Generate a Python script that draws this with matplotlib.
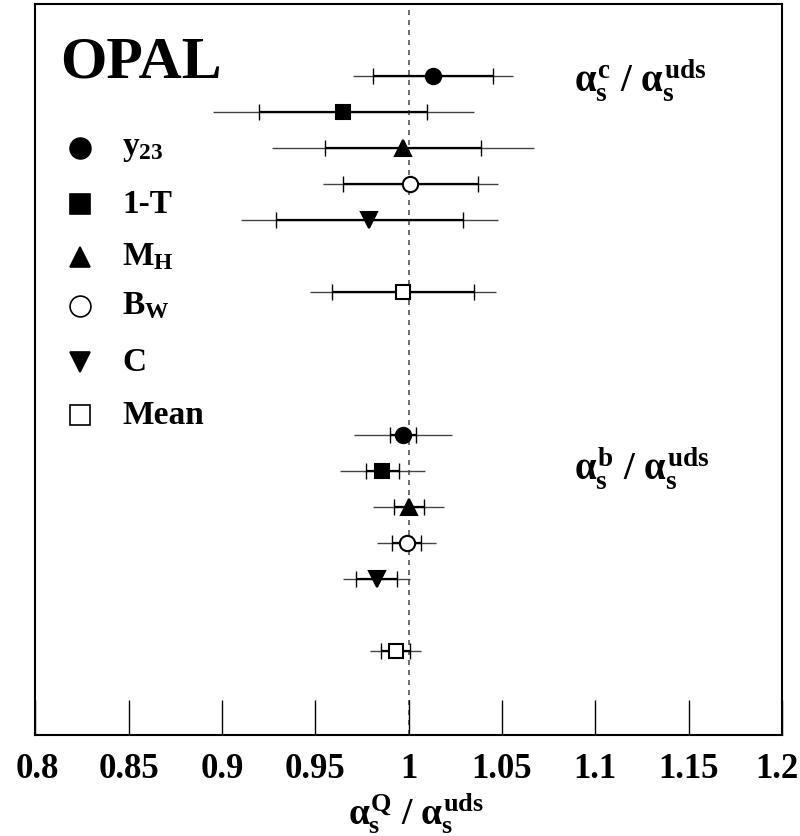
import matplotlib.pyplot as plt
import matplotlib.transforms as mtransforms
import numpy as np

plt.rcParams['font.family'] = 'Liberation Serif'
plt.rcParams['font.weight'] = 'bold'
plt.rcParams['mathtext.fontset'] = 'custom'
plt.rcParams['mathtext.rm'] = 'Liberation Serif'
plt.rcParams['mathtext.it'] = 'Liberation Serif'
plt.rcParams['mathtext.bf'] = 'Liberation Serif:bold'

# Observables (legend order)
labels = [r'$\mathbf{y_{23}}$', '1-T', r'$\mathbf{M_{H}}$', r'$\mathbf{B_{W}}$', 'C', 'Mean']
markers = ['o', 's', '^', 'o', 'v', 's']
filled = [True, True, True, False, True, False]

# alpha_s^c / alpha_s^uds
c_val = [1.013, 0.965, 0.997, 1.001, 0.979, 0.997]
c_stat = [0.032, 0.045, 0.042, 0.036, 0.050, 0.038]
c_tot = [0.043, 0.070, 0.070, 0.047, 0.069, 0.050]

# alpha_s^b / alpha_s^uds
b_val = [0.997, 0.986, 1.000, 0.999, 0.983, 0.993]
b_stat = [0.0067, 0.009, 0.008, 0.0078, 0.011, 0.0079]
b_tot = [0.026, 0.023, 0.019, 0.0157, 0.018, 0.0137]

fig = plt.figure(figsize=(8, 8.36), dpi=100)
ax = fig.add_axes([0.044, 0.1208, 0.9335, 0.8744])

rows = np.array([0, 1, 2, 3, 4, 6])
y_c = 18.3 - rows
y_b = 8.33 - rows


def draw(vals, stat, tot, ys):
    for i, (v, s, t, y) in enumerate(zip(vals, stat, tot, ys)):
        ax.hlines(y, v - t, v + t, color='#444444', lw=1.0, zorder=2)
        ax.hlines(y, v - s, v + s, color='black', lw=1.6, zorder=3)
        ax.vlines([v - s, v + s], y - 0.22, y + 0.22, color='black', lw=1.0, zorder=3)
        fc = 'black' if filled[i] else 'white'
        ax.plot(v, y, marker=markers[i], ms=11 if markers[i] != 's' else 10.5,
                mfc=fc, mec='black', mew=1.5, zorder=4)


draw(c_val, c_stat, c_tot, y_c)
draw(b_val, b_stat, b_tot, y_b)

ax.axvline(1.0, color='#555555', ls=(0, (3, 3)), lw=1.2, zorder=1)

ax.set_xlim(0.8, 1.2)
ax.set_ylim(0, 20.3)
ax.set_xticks(np.arange(0.8, 1.2001, 0.05))
ax.set_xticklabels(['0.8', '0.85', '0.9', '0.95', '1', '1.05', '1.1', '1.15', '1.2'])
ax.tick_params(axis='x', direction='in', length=25, width=1.0, labelsize=25, pad=13)
ax.set_yticks([])
for sp in ax.spines.values():
    sp.set_linewidth(1.5)

# nudge the outer labels so they stay inside the figure
tl = ax.get_xticklabels()
tl[-1].set_transform(tl[-1].get_transform() +
                     mtransforms.ScaledTranslation(-0.05, 0, fig.dpi_scale_trans))
tl[0].set_transform(tl[0].get_transform() +
                    mtransforms.ScaledTranslation(0.02, 0, fig.dpi_scale_trans))

fig.text(0.52, 0.0, r'$\alpha_{\mathbf{s}}^{\mathbf{Q}}$ / $\alpha_{\mathbf{s}}^{\mathbf{uds}}$',
         fontsize=27, ha='center', va='bottom')

ax.text(0.034, 0.955, 'OPAL', transform=ax.transAxes, fontsize=43,
        fontweight='bold', va='top', ha='left')

ax.text(0.722, 0.895, r'$\alpha_{\mathbf{s}}^{\mathbf{c}}$ / $\alpha_{\mathbf{s}}^{\mathbf{uds}}$',
        transform=ax.transAxes, fontsize=28, ha='left', va='center')
ax.text(0.722, 0.364, r'$\alpha_{\mathbf{s}}^{\mathbf{b}}$ / $\alpha_{\mathbf{s}}^{\mathbf{uds}}$',
        transform=ax.transAxes, fontsize=28, ha='left', va='center')

# legend drawn by hand
leg_y = [148, 204, 257, 306, 362, 415]
for i, lab in enumerate(labels):
    yy = (735 - leg_y[i]) / 731 * 20.3
    fc = 'black' if filled[i] else 'white'
    ax.plot(0.8 + (80 - 35) / 747 * 0.4, yy, marker=markers[i],
            ms=15 if markers[i] != 's' else 14, mfc=fc, mec='black', mew=1.2,
            clip_on=False)
    ax.text(0.8 + (122 - 35) / 747 * 0.4, yy, lab, fontsize=24, fontweight='bold',
            va='center', ha='left')

fig.savefig('out.png', dpi=100)
